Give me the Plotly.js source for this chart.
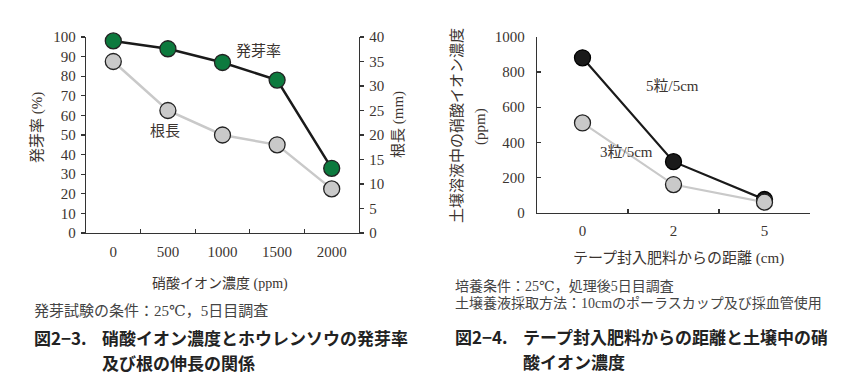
<!DOCTYPE html>
<html>
<head>
<meta charset="utf-8">
<script src="https://cdn.plot.ly/plotly-3.0.1.min.js"></script>
<style>html,body{margin:0;padding:0;background:#fff;}#chart{width:862px;height:389px;}</style>
</head>
<body>
<div id="chart"></div>
<script>
// ---- data ----
const concCats = ['0', '500', '1000', '1500', '2000'];      // 硝酸イオン濃度 (ppm)
const germRate = [98, 94, 87, 78, 33];                        // 発芽率 (%)
const rootLen = [35, 25, 20, 18, 9];                          // 根長 (mm)
const distCats = ['0', '2', '5'];                             // 距離 (cm)
const conc5 = [880, 290, 75];                                 // 5粒/5cm
const conc3 = [510, 160, 60];                                 // 3粒/5cm

const W = 862, H = 389;
const px = x => x / W;
const py = y => 1 - y / H;

const SERIF = '"Liberation Serif", "Times New Roman", "DejaVu Serif", "Noto Sans CJK JP", serif';
const JP = '"Noto Sans CJK JP", sans-serif';
const TXT = '#3b3430';
const AX = '#333333';
const GREEN = '#0d7a3e';
const GRAY = '#c9c9c9';

const traces = [
  { x: concCats, y: rootLen, xaxis: 'x', yaxis: 'y2', type: 'scatter', mode: 'lines+markers',
    line: { color: GRAY, width: 2.5 }, marker: { size: 16, color: GRAY, line: { color: '#222', width: 1.3 } },
    cliponaxis: false, name: '根長', hoverinfo: 'skip' },
  { x: concCats, y: germRate, xaxis: 'x', yaxis: 'y', type: 'scatter', mode: 'lines+markers',
    line: { color: '#1a1a1a', width: 2.5 }, marker: { size: 16, color: GREEN, line: { color: '#222', width: 1.3 } },
    cliponaxis: false, name: '発芽率', hoverinfo: 'skip' },
  { x: distCats, y: conc5, xaxis: 'x2', yaxis: 'y3', type: 'scatter', mode: 'lines+markers',
    line: { color: '#1a1a1a', width: 2.2 }, marker: { size: 16, color: '#1a1a1a', line: { color: '#000', width: 1.3 } },
    cliponaxis: false, name: '5粒/5cm', hoverinfo: 'skip' },
  { x: distCats, y: conc3, xaxis: 'x2', yaxis: 'y3', type: 'scatter', mode: 'lines+markers',
    line: { color: GRAY, width: 2.2 }, marker: { size: 16, color: GRAY, line: { color: '#222', width: 1.3 } },
    cliponaxis: false, name: '3粒/5cm', hoverinfo: 'skip' }
];

const tickFont = { family: SERIF, size: 15, color: TXT };
const baseAxis = { showgrid: false, zeroline: false, showline: true, linecolor: AX, linewidth: 1.2,
  tickcolor: AX, tickwidth: 1.2, ticklen: 4, tickfont: tickFont, fixedrange: true };

function ann(text, x, y, opts) {
  return Object.assign({ text: text, x: px(x), y: py(y), xref: 'paper', yref: 'paper',
    showarrow: false, xanchor: 'center', yanchor: 'middle',
    font: { family: SERIF, size: 15, color: TXT } }, opts || {});
}
const boldFont = { family: JP, size: 17, color: '#222', weight: 'bold' };

const annotations = [
  // left chart
  ann('発芽率', 258, 51),
  ann('根長', 165, 131),
  ann('発芽率 (%)', 38, 128, { textangle: -90 }),
  ann('根長 (mm)', 399, 125, { textangle: -90 }),
  ann('硝酸イオン濃度 (ppm)', 220, 284, { font: { family: SERIF, size: 14, color: TXT } }),
  ann('発芽試験の条件：25℃，5日目調査', 32, 311, { xanchor: 'left', font: { family: SERIF, size: 15, color: '#444' } }),
  ann('図2−3.', 32, 337, { xanchor: 'left', font: boldFont }),
  ann('硝酸イオン濃度とホウレンソウの発芽率', 100, 337, { xanchor: 'left', font: boldFont }),
  ann('及び根の伸長の関係', 100, 362.5, { xanchor: 'left', font: boldFont }),
  // right chart
  ann('5粒/5cm', 672, 86),
  ann('3粒/5cm', 626, 152),
  ann('土壌溶液中の硝酸イオン濃度', 457, 126, { textangle: -90 }),
  ann('(ppm)', 480, 127, { textangle: -90 }),
  ann('テープ封入肥料からの距離 (cm)', 678, 258),
  ann('培養条件：25℃，処理後5日目調査', 453, 286, { xanchor: 'left', font: { family: SERIF, size: 14, color: '#444' } }),
  ann('土壌養液採取方法：10cmのポーラスカップ及び採血管使用', 453, 303, { xanchor: 'left', font: { family: SERIF, size: 14, color: '#444' } }),
  ann('図2−4.', 453, 336, { xanchor: 'left', font: boldFont }),
  ann('テープ封入肥料からの距離と土壌中の硝', 521, 336, { xanchor: 'left', font: boldFont }),
  ann('酸イオン濃度', 521, 361.5, { xanchor: 'left', font: boldFont })
];

const layout = {
  width: W, height: H,
  margin: { l: 0, r: 0, t: 0, b: 0 },
  paper_bgcolor: '#ffffff', plot_bgcolor: 'rgba(0,0,0,0)',
  showlegend: false,
  font: { family: SERIF, color: TXT },
  xaxis: Object.assign({}, baseAxis, { domain: [px(86), px(359)], anchor: 'y', type: 'category',
    range: [-0.5, 4.5], ticks: 'inside', tickson: 'boundaries', ticklabelstandoff: 5 }),
  yaxis: Object.assign({}, baseAxis, { domain: [py(233), py(37)], anchor: 'x', range: [0, 100], dtick: 10,
    ticks: 'outside', ticklabelstandoff: 2 }),
  yaxis2: Object.assign({}, baseAxis, { domain: [py(233), py(37)], anchor: 'x', overlaying: 'y', side: 'right',
    range: [0, 40], dtick: 5, ticks: 'outside', ticklabelstandoff: 2 }),
  xaxis2: Object.assign({}, baseAxis, { domain: [px(537), px(810)], anchor: 'y3', type: 'category',
    range: [-0.5, 2.5], ticks: 'inside', tickson: 'boundaries', ticklabelstandoff: 4 }),
  yaxis3: Object.assign({}, baseAxis, { domain: [py(212.7), py(36.7)], anchor: 'x2', range: [0, 1000], dtick: 200,
    ticks: 'inside', ticklabelstandoff: 8 }),
  annotations: annotations
};

Plotly.newPlot('chart', traces, layout, { staticPlot: true, displayModeBar: false });
</script>
</body>
</html>
